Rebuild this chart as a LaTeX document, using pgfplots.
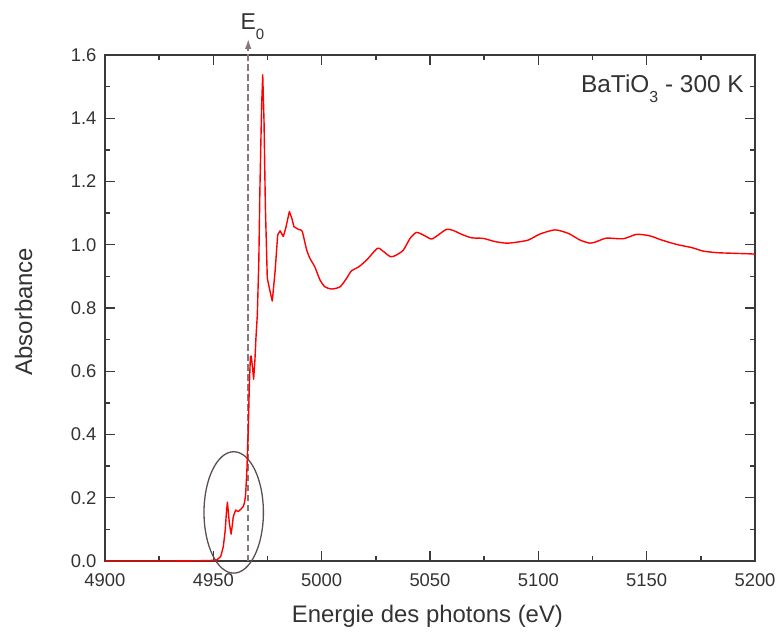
\documentclass[border=0pt]{standalone}
\usepackage{pgfplots}
\pgfplotsset{compat=1.18}
\usepackage{fontspec}
\setmainfont{Liberation Sans}
\usetikzlibrary{arrows.meta}
\definecolor{txt}{HTML}{333333}
\definecolor{axc}{HTML}{3A3A3A}
\definecolor{dashc}{HTML}{857878}
\definecolor{ellc}{HTML}{5A504E}
\pgfplotstableread{
E A
4900 0.000
4930 0.000
4945 0.001
4950 0.002
4951.5 0.003
4953.4 0.014
4954.6 0.045
4955.5 0.098
4956.0 0.150
4956.5 0.186
4957.0 0.150
4957.4 0.119
4958.2 0.085
4958.7 0.110
4959.2 0.140
4960.3 0.161
4961.4 0.156
4962.6 0.163
4963.8 0.172
4964.4 0.185
4964.9 0.209
4965.5 0.288
4966.2 0.435
4966.6 0.551
4967.1 0.646
4967.5 0.648
4968.2 0.604
4968.6 0.575
4969.2 0.636
4969.7 0.709
4970.3 0.778
4971.0 0.950
4971.5 1.178
4972.3 1.442
4972.8 1.537
4973.4 1.389
4974.0 1.126
4974.9 0.894
4976.2 0.852
4977.2 0.822
4978.5 0.915
4979.7 1.031
4980.8 1.044
4982.3 1.026
4983.4 1.052
4985.1 1.105
4986.2 1.084
4987.2 1.057
4989.7 1.047
}\edgetable
\pgfplotstableread{
E A
4989.7 1.047
4991.0 1.043
4993.1 0.983
4994.6 0.957
4996.9 0.929
4999.2 0.889
5001.5 0.867
5004.6 0.860
5008.5 0.867
5011.5 0.894
5013.8 0.918
5016.9 0.929
5020.8 0.952
5025.7 0.989
5027.7 0.983
5031.8 0.962
5034.6 0.968
5037.7 0.983
5040.8 1.020
5043.8 1.039
5047.7 1.028
5050.7 1.018
5053.8 1.031
5057.7 1.049
5060.8 1.045
5064.6 1.033
5069.2 1.022
5074.6 1.020
5080.0 1.010
5085.4 1.005
5090.0 1.008
5095.4 1.015
5100.8 1.034
5107.7 1.047
5113.8 1.036
5119.2 1.015
5123.8 1.005
5126.9 1.010
5131.5 1.021
5139.2 1.019
5145.4 1.033
5151.5 1.028
5156.9 1.015
5163.8 1.001
5170.8 0.991
5176.1 0.980
5182.3 0.975
5190.0 0.973
5198.5 0.971
5200.0 0.970
}\exafstable
\begin{document}
\begin{tikzpicture}
\begin{axis}[name=ax, at={(0,0)}, anchor=south west,
  scale only axis, width=650bp, height=506bp,
  xmin=4900, xmax=5200, ymin=0, ymax=1.6,
  xtick={4900,4950,5000,5050,5100,5150,5200},
  ytick={0,0.2,0.4,0.6,0.8,1.0,1.2,1.4,1.6},
  minor x tick num=1, minor y tick num=1,
  tick align=inside, tick pos=both,
  major tick length=10bp, minor tick length=5bp,
  axis line style={axc, line width=1.6bp},
  tick style={axc, line width=1.4bp},
  /pgf/number format/assume math mode=true,
  x tick label style={font=\fontsize{18.5}{20}\selectfont, text=txt, /pgf/number format/1000 sep={}, yshift=-9bp},
  y tick label style={font=\fontsize{18.5}{20}\selectfont, text=txt, /pgf/number format/fixed, /pgf/number format/fixed zerofill, /pgf/number format/precision=1, xshift=-5bp},
  xlabel={Energie des photons (eV)}, ylabel={Absorbance},
  label style={font=\fontsize{24}{26}\selectfont, text=txt},
  xlabel style={at={(axis description cs:0.496,-0.1225)}, anchor=base},
  ylabel style={at={(axis description cs:-0.1123,0.493)}, anchor=base},
  clip=false]
\draw[dashc, line width=1.6bp, dash pattern=on 6.5bp off 3.5bp, -{Latex[length=10bp,width=6.5bp]}] (axis cs:4966.1,0) -- (axis cs:4966.1,1.651);
\draw[ellc, line width=1.3bp] (axis cs:4959.4,0.1536) ellipse [x radius=29.7bp, y radius=60.7bp];
\addplot[color=red, line width=1.4bp, line join=round] table[x=E, y=A] {\edgetable};
\addplot[color=red, line width=1.4bp, line join=round, smooth, tension=0.4] table[x=E, y=A] {\exafstable};
\node[anchor=base, text=txt, inner sep=0pt, font=\fontsize{23}{25}\selectfont] at (axis cs:4968.0,1.681) {E\raisebox{-10bp}{\fontsize{15}{15}\selectfont 0}};
\node[anchor=base east, text=txt, inner sep=0pt, font=\fontsize{24.5}{26}\selectfont] at (axis cs:5194.9,1.480) {BaTiO\raisebox{-10bp}{\fontsize{16}{16}\selectfont 3} - 300 K};
\end{axis}
\pgfresetboundingbox
\path[use as bounding box] (ax.south west) ++(-105bp,-72bp) rectangle ++(777bp,633bp);
\end{tikzpicture}
\end{document}
